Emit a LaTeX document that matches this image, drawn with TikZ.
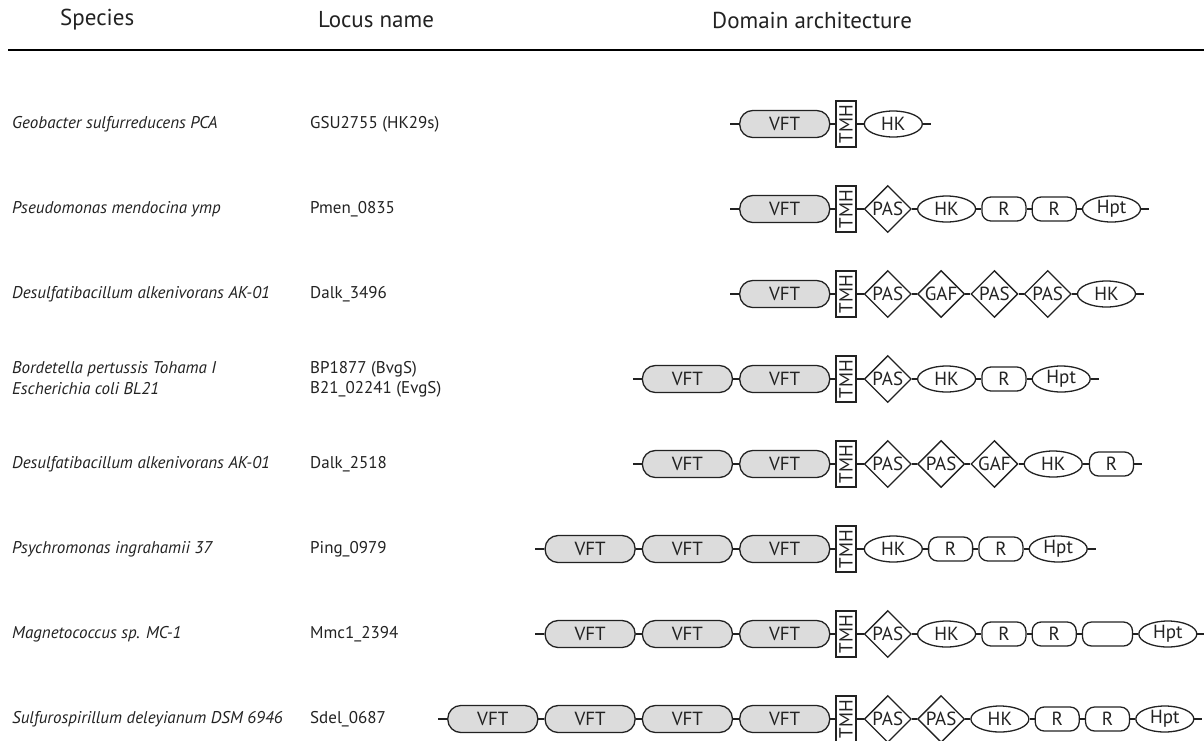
\documentclass[tikz,border=0pt]{standalone}
\usepackage{fontspec}
\setmainfont{PT Sans}
\usetikzlibrary{shapes.geometric,positioning}
\definecolor{ink}{HTML}{222222}
\definecolor{vftfill}{HTML}{DCDCDC}
\tikzset{
  dom/.style={draw=ink, line width=1.3pt, inner sep=0pt, text=ink, font=\fontsize{19}{20}\selectfont},
  vft/.style={dom, fill=vftfill, rounded corners=13pt, minimum width=90pt, minimum height=27pt},
  tmh/.style={dom, fill=white, minimum width=20pt, minimum height=46pt, font=\fontsize{19}{19}\selectfont},
  dia/.style={dom, diamond, aspect=1, fill=white, minimum width=47pt, minimum height=47pt},
  ell/.style={dom, ellipse, fill=white, minimum width=58pt, minimum height=26pt},
  rr/.style={dom, fill=white, rounded corners=9pt, minimum width=44pt, minimum height=24pt},
  conn/.style={draw=ink, line width=1.3pt},
  spec/.style={anchor=west, inner sep=0pt, text=ink, font=\fontsize{17}{20}\selectfont\itshape},
  locus/.style={anchor=west, inner sep=0pt, text=ink, font=\fontsize{17}{20}\selectfont},
  head/.style={anchor=west, inner sep=0pt, text=ink, font=\fontsize{23}{25}\selectfont},
}
\newcommand{\TMH}{\rotatebox{90}{TMH}}
\begin{document}
\begin{tikzpicture}[x=1pt,y=-1pt]
\useasboundingbox (0,0) rectangle (1204,740);
% header
\node[head] (h1) at (60,20) {Species};
\node[head] (h2) at (318,20) {Locus name};
\node[head] (h3) at (712,20) {Domain architecture};
\coordinate (rl) at (8,50);
\coordinate (rr) at (1204,50);
\draw[black, line width=1.5pt] (rl) -- (rr);

% ---------- Row 1
\node[spec] (s1) at (12,124) {Geobacter sulfurreducens PCA};
\node[locus] (l1) at (310,124) {GSU2755 (HK29s)};
\node[tmh] (t1) at (846,124) {\TMH};
\node[vft, left=5pt of t1] (a1) {VFT};
\node[ell, right=7pt of t1] (b1) {HK};
\coordinate[left=9pt of a1.west] (p1);
\coordinate[right=8pt of b1.east] (q1);
\draw[conn] (p1) -- (a1.west) (a1.east) -- (t1.west) (t1.east) -- (b1.west) (b1.east) -- (q1);

% ---------- Row 2
\node[spec] (s2) at (12,209) {Pseudomonas mendocina ymp};
\node[locus] (l2) at (310,209) {Pmen\_0835};
\node[tmh] (t2) at (846,209) {\TMH};
\node[vft, left=5pt of t2] (a2) {VFT};
\node[dia, right=7pt of t2] (c2) {PAS};
\node[ell, right=5pt of c2] (d2) {HK};
\node[rr, right=5pt of d2] (e2) {R};
\node[rr, right=5pt of e2] (f2) {R};
\node[ell, right=5pt of f2] (g2) {Hpt};
\coordinate[left=9pt of a2.west] (p2);
\coordinate[right=8pt of g2.east] (q2);
\draw[conn] (p2) -- (a2.west) (a2.east) -- (t2.west) (t2.east) -- (c2.west)
  (c2.east) -- (d2.west) (d2.east) -- (e2.west) (e2.east) -- (f2.west)
  (f2.east) -- (g2.west) (g2.east) -- (q2);

% ---------- Row 3
\node[spec] (s3) at (12,294) {Desulfatibacillum alkenivorans AK-01};
\node[locus] (l3) at (310,294) {Dalk\_3496};
\node[tmh] (t3) at (846,294) {\TMH};
\node[vft, left=5pt of t3] (a3) {VFT};
\node[dia, right=7pt of t3] (c3) {PAS};
\node[dia, right=5pt of c3] (d3) {GAF};
\node[dia, right=5pt of d3] (e3) {PAS};
\node[dia, right=5pt of e3] (f3) {PAS};
\node[ell, right=5pt of f3] (g3) {HK};
\coordinate[left=9pt of a3.west] (p3);
\coordinate[right=8pt of g3.east] (q3);
\draw[conn] (p3) -- (a3.west) (a3.east) -- (t3.west) (t3.east) -- (c3.west)
  (c3.east) -- (d3.west) (d3.east) -- (e3.west) (e3.east) -- (f3.west)
  (f3.east) -- (g3.west) (g3.east) -- (q3);

% ---------- Row 4
\node[spec] (s4a) at (12,369) {Bordetella pertussis Tohama I};
\node[spec] (s4b) at (12,389) {Escherichia coli BL21};
\node[locus] (l4a) at (310,369) {BP1877 (BvgS)};
\node[locus] (l4b) at (310,389) {B21\_02241 (EvgS)};
\node[tmh] (t4) at (846,379) {\TMH};
\node[vft, left=5pt of t4] (a4) {VFT};
\node[vft, left=6pt of a4] (b4) {VFT};
\node[dia, right=7pt of t4] (c4) {PAS};
\node[ell, right=5pt of c4] (d4) {HK};
\node[rr, right=5pt of d4] (e4) {R};
\node[ell, right=5pt of e4] (f4) {Hpt};
\coordinate[left=9pt of b4.west] (p4);
\coordinate[right=8pt of f4.east] (q4);
\draw[conn] (p4) -- (b4.west) (b4.east) -- (a4.west) (a4.east) -- (t4.west)
  (t4.east) -- (c4.west) (c4.east) -- (d4.west) (d4.east) -- (e4.west)
  (e4.east) -- (f4.west) (f4.east) -- (q4);

% ---------- Row 5
\node[spec] (s5) at (12,464) {Desulfatibacillum alkenivorans AK-01};
\node[locus] (l5) at (310,464) {Dalk\_2518};
\node[tmh] (t5) at (846,464) {\TMH};
\node[vft, left=5pt of t5] (a5) {VFT};
\node[vft, left=6pt of a5] (b5) {VFT};
\node[dia, right=7pt of t5] (c5) {PAS};
\node[dia, right=5pt of c5] (d5) {PAS};
\node[dia, right=5pt of d5] (e5) {GAF};
\node[ell, right=5pt of e5] (f5) {HK};
\node[rr, right=6pt of f5] (g5) {R};
\coordinate[left=9pt of b5.west] (p5);
\coordinate[right=8pt of g5.east] (q5);
\draw[conn] (p5) -- (b5.west) (b5.east) -- (a5.west) (a5.east) -- (t5.west)
  (t5.east) -- (c5.west) (c5.east) -- (d5.west) (d5.east) -- (e5.west)
  (e5.east) -- (f5.west) (f5.east) -- (g5.west) (g5.east) -- (q5);

% ---------- Row 6
\node[spec] (s6) at (12,549) {Psychromonas ingrahamii 37};
\node[locus] (l6) at (310,549) {Ping\_0979};
\node[tmh] (t6) at (846,549) {\TMH};
\node[vft, left=5pt of t6] (a6) {VFT};
\node[vft, left=6pt of a6] (b6) {VFT};
\node[vft, left=6pt of b6] (c6) {VFT};
\node[ell, right=7pt of t6] (d6) {HK};
\node[rr, right=5pt of d6] (e6) {R};
\node[rr, right=5pt of e6] (f6) {R};
\node[ell, right=5pt of f6] (g6) {Hpt};
\coordinate[left=9pt of c6.west] (p6);
\coordinate[right=8pt of g6.east] (q6);
\draw[conn] (p6) -- (c6.west) (c6.east) -- (b6.west) (b6.east) -- (a6.west)
  (a6.east) -- (t6.west) (t6.east) -- (d6.west) (d6.east) -- (e6.west)
  (e6.east) -- (f6.west) (f6.east) -- (g6.west) (g6.east) -- (q6);

% ---------- Row 7
\node[spec] (s7) at (12,634) {Magnetococcus sp. MC-1};
\node[locus] (l7) at (310,634) {Mmc1\_2394};
\node[tmh] (t7) at (846,634) {\TMH};
\node[vft, left=5pt of t7] (a7) {VFT};
\node[vft, left=6pt of a7] (b7) {VFT};
\node[vft, left=6pt of b7] (c7) {VFT};
\node[dia, right=7pt of t7] (d7) {PAS};
\node[ell, right=5pt of d7] (e7) {HK};
\node[rr, right=5pt of e7] (f7) {R};
\node[rr, right=5pt of f7] (g7) {R};
\node[rr, minimum width=50pt, right=5pt of g7] (h7) {};
\node[ell, right=5pt of h7] (i7) {Hpt};
\coordinate[left=9pt of c7.west] (p7);
\coordinate[right=8pt of i7.east] (q7);
\draw[conn] (p7) -- (c7.west) (c7.east) -- (b7.west) (b7.east) -- (a7.west)
  (a7.east) -- (t7.west) (t7.east) -- (d7.west) (d7.east) -- (e7.west)
  (e7.east) -- (f7.west) (f7.east) -- (g7.west) (g7.east) -- (h7.west)
  (h7.east) -- (i7.west) (i7.east) -- (q7);

% ---------- Row 8
\node[spec] (s8) at (12,719) {Sulfurospirillum deleyianum DSM 6946};
\node[locus] (l8) at (310,719) {Sdel\_0687};
\node[tmh] (t8) at (846,719) {\TMH};
\node[vft, left=5pt of t8] (a8) {VFT};
\node[vft, left=6pt of a8] (b8) {VFT};
\node[vft, left=6pt of b8] (c8) {VFT};
\node[vft, left=6pt of c8] (d8) {VFT};
\node[dia, right=7pt of t8] (e8) {PAS};
\node[dia, right=5pt of e8] (f8) {PAS};
\node[ell, right=5pt of f8] (g8) {HK};
\node[rr, right=5pt of g8] (h8) {R};
\node[rr, right=5pt of h8] (i8) {R};
\node[ell, right=5pt of i8] (j8) {Hpt};
\coordinate[left=9pt of d8.west] (p8);
\coordinate[right=8pt of j8.east] (q8);
\draw[conn] (p8) -- (d8.west) (d8.east) -- (c8.west) (c8.east) -- (b8.west)
  (b8.east) -- (a8.west) (a8.east) -- (t8.west) (t8.east) -- (e8.west)
  (e8.east) -- (f8.west) (f8.east) -- (g8.west) (g8.east) -- (h8.west)
  (h8.east) -- (i8.west) (i8.east) -- (j8.west) (j8.east) -- (q8);
\end{tikzpicture}
\end{document}
